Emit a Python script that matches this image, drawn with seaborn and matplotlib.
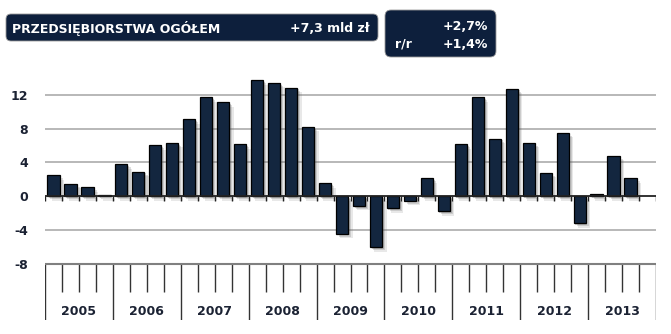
import matplotlib
matplotlib.use("Agg")
import matplotlib.pyplot as plt
import matplotlib.patheffects as pe
from matplotlib.patches import FancyBboxPatch
from matplotlib.lines import Line2D
import numpy as np
import pandas as pd
import seaborn as sns

# Quarterly change, bn PLN
years = ["2005", "2006", "2007", "2008", "2009", "2010", "2011", "2012", "2013"]
quarters = ["Q1", "Q2", "Q3", "Q4"]
values = [2.5, 1.5, 1.05, 0.15,
          3.8, 2.9, 6.05, 6.3,
          9.1, 11.7, 11.1, 6.15,
          13.7, 13.4, 12.85, 8.2,
          1.55, -4.4, -1.15, -6.0,
          -1.4, -0.5, 2.15, -1.75,
          6.15, 11.7, 6.8, 12.7,
          6.3, 2.8, 7.5, -3.2,
          0.3, 4.8, 2.15]
y_ticks = [-8, -4, 0, 4, 8, 12]

header_title = "PRZEDSIĘBIORSTWA OGÓŁEM"
header_value = "+7,3 mld zł"
header_pct_top = "+2,7%"
header_label = "r/r"
header_pct_bottom = "+1,4%"

slots = [f"{y} {q}" for y in years for q in quarters]
df = pd.DataFrame({"okres": slots[:len(values)], "wartosc": values})

NAVY = "#0d1f3c"
BAR = "#13263f"
TEXT = "#1b2233"

sns.set_theme(style="white")
plt.rcParams["font.family"] = ["DejaVu Sans"]

W, H = 671, 334
fig = plt.figure(figsize=(W / 100, H / 100), dpi=100)

# main bar panel
ax = fig.add_axes([45 / W, (H - 264) / H, 611 / W, 190 / H])
sns.barplot(data=df, x="okres", y="wartosc", order=slots, color=BAR,
            saturation=1, width=0.72, edgecolor="black", linewidth=0.9,
            ax=ax, zorder=3)

shadow = [pe.SimplePatchShadow(offset=(1.2, -1.2), shadow_rgbFace="#444", alpha=0.25),
          pe.SimplePatchShadow(offset=(2.2, -2.2), shadow_rgbFace="#555", alpha=0.2),
          pe.SimplePatchShadow(offset=(3.2, -3.2), shadow_rgbFace="#666", alpha=0.15),
          pe.Normal()]
for p in ax.patches:
    p.set_path_effects(shadow)

ax.set_xlim(-0.5, len(slots) - 0.5)
ax.set_ylim(-8, -8 + 190 / 8.465)
ax.set_yticks(y_ticks)
ax.set_yticklabels([str(t) for t in y_ticks], fontsize=9, fontweight="bold", color=TEXT)
ax.tick_params(axis="y", length=0, pad=12)
ax.set_xticks([])
ax.set_xlabel("")
ax.set_ylabel("")
for s in ax.spines.values():
    s.set_visible(False)
for t in y_ticks:
    if t not in (0, -8):
        ax.axhline(t, color="#b8b8b8", lw=1.4, zorder=1)
ax.axhline(0, color="#222222", lw=1.3, zorder=4)
bounds = np.arange(len(slots) + 1) - 0.5
ax.vlines(bounds, -0.5, 0, color="#222222", lw=1.0, zorder=4)

# category box with quarter ticks and year labels
axc = fig.add_axes([45 / W, (H - 320) / H, 611 / W, 56 / H])
axc.set_xlim(-0.5, len(slots) - 0.5)
axc.set_ylim(0, 1)
axc.axis("off")
for i, b in enumerate(bounds):
    if i % 4 == 0:
        axc.vlines(b, 0, 1, color="#333333", lw=1.0)
    else:
        axc.vlines(b, 0.5, 1, color="#333333", lw=1.0)
for k, y in enumerate(years):
    axc.text(4 * k + 1.5, 0.15, y, ha="center", va="center",
             fontsize=9, fontweight="bold", color=TEXT)

# top edge of the category box
fig.add_artist(Line2D([45 / W, 656 / W], [(H - 264) / H] * 2,
                      transform=fig.transFigure, color="#808080", lw=1.5,
                      zorder=10, solid_capstyle="butt"))

# header boxes
axh = fig.add_axes([0, 0, 1, 1])
axh.set_xlim(0, W)
axh.set_ylim(H, 0)
axh.axis("off")
axh.add_patch(FancyBboxPatch((6, 14), 372, 27, boxstyle="round,pad=0,rounding_size=5",
                             fc=NAVY, ec="#9a9a9a", lw=0.6))
axh.add_patch(FancyBboxPatch((385, 10), 111, 47, boxstyle="round,pad=0,rounding_size=6",
                             fc=NAVY, ec="#9a9a9a", lw=0.6))
axh.text(12, 28, header_title, ha="left", va="center", fontsize=9,
         fontweight="bold", color="white")
axh.text(370, 28, header_value, ha="right", va="center", fontsize=9,
         fontweight="bold", color="white")
axh.text(488, 26, header_pct_top, ha="right", va="center", fontsize=9,
         fontweight="bold", color="white")
axh.text(395, 44, header_label, ha="left", va="center", fontsize=9,
         fontweight="bold", color="white")
axh.text(488, 44, header_pct_bottom, ha="right", va="center", fontsize=9,
         fontweight="bold", color="white")

fig.savefig("out.png", dpi=100)
